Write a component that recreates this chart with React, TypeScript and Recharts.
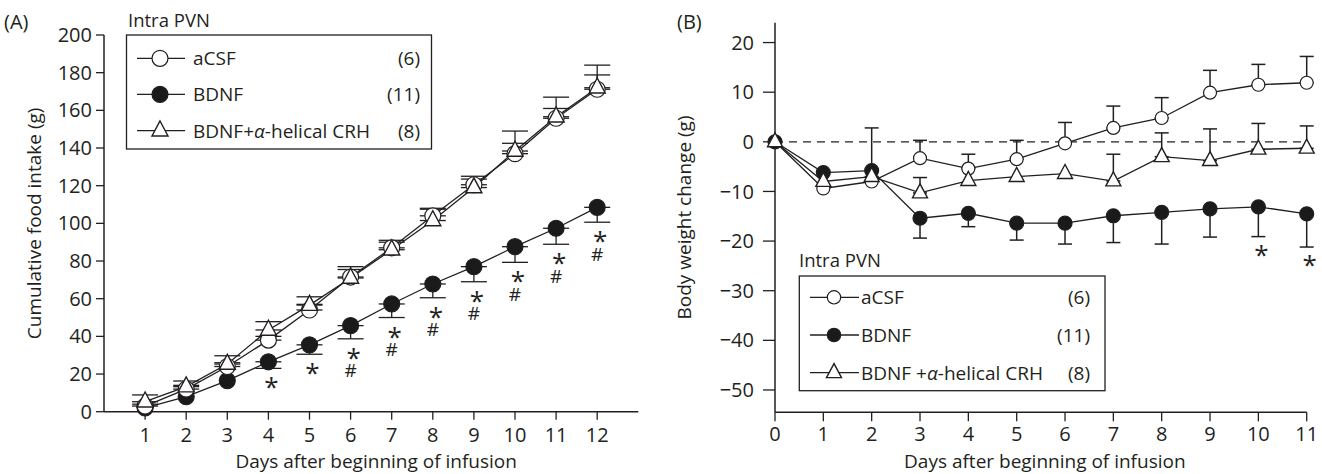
import React from 'react';
import { LineChart, Line, XAxis, YAxis, ErrorBar, Legend, ReferenceLine, Label } from 'recharts';

const FONT = '"Open Sans", "Noto Sans", sans-serif';
const INK = '#231f20';

// ---------- Panel A: cumulative food intake ----------
const daysA = [1, 2, 3, 4, 5, 6, 7, 8, 9, 10, 11, 12];
const acsfA = [3, 12, 24, 38, 54, 71.5, 87, 104, 120.5, 137, 155.8, 171.2];
const acsfErrA = [1, 2, 2, 2, 3, 4, 3, 4, 3, 5.5, 5.2, 7.6];
const bdnfA = [2, 8, 16.5, 26.5, 35.5, 45.7, 57.2, 67.8, 77, 87.6, 97.4, 108.5];
const bdnfErrA = [0, 0, 0, 3.5, 5, 7, 7.2, 7.3, 8, 8.3, 8.5, 7.9];
const crhA = [5.3, 13.3, 25.3, 43.4, 56.6, 71, 86, 101.5, 119, 138.4, 156.6, 172];
const crhErrA = [3.6, 3, 4.4, 4.4, 4.4, 6, 5, 6, 6, 10.6, 10.4, 12];
const starDaysA = [4, 5, 6, 7, 8, 9, 10, 11, 12];
const hashDaysA = [6, 7, 8, 9, 10, 11, 12];
const xTicksA = [1, 2, 3, 4, 5, 6, 7, 8, 9, 10, 11, 12];
const yTicksA = [0, 20, 40, 60, 80, 100, 120, 140, 160, 180, 200];

// ---------- Panel B: body weight change ----------
const daysB = [0, 1, 2, 3, 4, 5, 6, 7, 8, 9, 10, 11];
const acsfB = [0, -9.4, -8, -3.3, -5.4, -3.5, -0.3, 2.8, 4.8, 9.9, 11.5, 11.9];
const acsfErrB = [0, 0, 0, 3.6, 2.9, 3.8, 4.2, 4.4, 4.1, 4.5, 4.1, 5.3];
const bdnfB = [0, -6.2, -5.8, -15.4, -14.4, -16.4, -16.4, -14.9, -14.2, -13.5, -13.1, -14.5];
const bdnfErrB = [0, 0, 0, 4, 2.7, 3.4, 4.2, 5.4, 6.4, 5.7, 6, 6.7];
const crhB = [0, -8, -7, -10.3, -7.8, -7, -6.4, -7.9, -3, -3.8, -1.5, -1.3];
const crhErrB = [0, 0, 9.8, 3.1, 0, 0, 0, 5.4, 4.8, 6.4, 5.2, 4.5];
const starDaysB = [10, 11];
const xTicksB = [0, 1, 2, 3, 4, 5, 6, 7, 8, 9, 10, 11];
const yTicksB = [20, 10, 0, -10, -20, -30, -40, -50];

// ---------- Legend ----------
const legendTitle = 'Intra PVN';
const legendNamesA = ['aCSF', 'BDNF', 'BDNF+'];
const legendNamesB = ['aCSF', 'BDNF', 'BDNF +'];
const legendSuffix = ['', '', '-helical CRH'];
const legendCounts = ['(6)', '(11)', '(8)'];
const markerKinds = ['open', 'filled', 'triangle'];

const up = (e: number) => (e ? [0, e] : null);
const down = (e: number) => (e ? [e, 0] : null);

const dataA = daysA.map((d, i) => ({
  day: d,
  acsf: acsfA[i], acsfErr: up(acsfErrA[i]),
  bdnf: bdnfA[i], bdnfErr: down(bdnfErrA[i]),
  crh: crhA[i], crhErr: up(crhErrA[i]),
  sig: starDaysA.includes(d) ? bdnfA[i] - bdnfErrA[i] : null,
  star: starDaysA.includes(d),
  hash: hashDaysA.includes(d),
}));

const dataB = daysB.map((d, i) => ({
  day: d,
  acsf: acsfB[i], acsfErr: up(acsfErrB[i]),
  bdnf: bdnfB[i], bdnfErr: down(bdnfErrB[i]),
  crh: crhB[i], crhErr: up(crhErrB[i]),
  sig: starDaysB.includes(d) ? bdnfB[i] - bdnfErrB[i] : null,
  star: starDaysB.includes(d),
  hash: false,
}));

function Marker({ kind, cx, cy, r, tw, th }: any) {
  if (kind === 'triangle') {
    const top = cy - th * 0.65;
    const bot = cy + th * 0.35;
    return (
      <polygon
        points={`${cx},${top} ${cx - tw / 2},${bot} ${cx + tw / 2},${bot}`}
        fill="#fff" stroke={INK} strokeWidth={1.4} strokeLinejoin="miter"
      />
    );
  }
  return (
    <circle cx={cx} cy={cy} r={r} fill={kind === 'filled' ? '#1a1a1a' : '#fff'}
      stroke={INK} strokeWidth={1.2} />
  );
}

const makeDot = (kind: string, r: number, tw: number, th: number) => (props: any) => {
  const { cx, cy, index } = props;
  if (cx == null || cy == null || isNaN(cy)) return <g key={`d${kind}${index}`} />;
  return (
    <g key={`d${kind}${index}`}>
      <Marker kind={kind} cx={cx} cy={cy} r={r} tw={tw} th={th} />
    </g>
  );
};

// significance marks under the BDNF error bars: "*" and (optionally) "#" stacked in one text
const makeSigDot = (starDy: number, hashGap: number, starDx: number) => (props: any) => {
  const { cx, cy, payload, index } = props;
  if (cx == null || cy == null || isNaN(cy) || payload.sig == null) return <g key={`s${index}`} />;
  return (
    <g key={`s${index}`}>
      <text x={cx + starDx} y={cy + starDy} textAnchor="middle" fontFamily={FONT} fill={INK}>
        {payload.star && <tspan fontSize={26}>*</tspan>}
        {payload.hash && (
          <tspan x={cx} dy={hashGap} fontSize={19}>#</tspan>
        )}
      </text>
    </g>
  );
};

function LegendBox({ names, cfg }: any) {
  return (
    <svg width={cfg.w} height={cfg.h} style={{ display: 'block', overflow: 'visible' }}>
      <text x={cfg.titleX} y={cfg.titleY} fontSize={18.5} fontFamily={FONT} fill={INK}>{legendTitle}</text>
      <rect x={cfg.boxX} y={cfg.boxY} width={cfg.boxW} height={cfg.boxH} fill="#fff" stroke={INK} strokeWidth={1.3} />
      {names.map((n: string, i: number) => {
        const y = cfg.rows[i];
        return (
          <g key={n + i}>
            <line x1={cfg.lx1} x2={cfg.lx2} y1={y} y2={y} stroke={INK} strokeWidth={1.3} />
            <Marker kind={markerKinds[i]} cx={cfg.mx} cy={y} r={cfg.r} tw={cfg.tw} th={cfg.th} />
            <text x={cfg.tx} y={y + 7} fontSize={19} fontFamily={FONT} fill={INK}>
              {n}
              {legendSuffix[i] && <tspan fontStyle="italic">α</tspan>}
              {legendSuffix[i]}
            </text>
            <text x={cfg.cx} y={y + 7} fontSize={19} fontFamily={FONT} fill={INK} textAnchor="end">{legendCounts[i]}</text>
          </g>
        );
      })}
    </svg>
  );
}

const legendCfgA = {
  w: 320, h: 155, titleX: 8, titleY: 27,
  boxX: 6.5, boxY: 35, boxW: 305, boxH: 114,
  rows: [58.3, 94.3, 130.7], lx1: 17, lx2: 65, mx: 40, tx: 73, cx: 300,
  r: 8, tw: 16, th: 15,
};
const legendCfgB = {
  w: 320, h: 155, titleX: 9, titleY: 27,
  boxX: 9.3, boxY: 36, boxW: 305.7, boxH: 114.7,
  rows: [57.3, 95, 132.7], lx1: 20, lx2: 69, mx: 44, tx: 71, cx: 300,
  r: 6.7, tw: 15, th: 14,
};

const tickStyle = { fontSize: 20, fill: INK, fontFamily: FONT };
const minus = (v: number) => String(v).replace('-', '\u2212');

const yTitle = (text: string, dxFromAxis: number) => (props: any) => {
  const vb = props.viewBox || {};
  const x = vb.x + vb.width + dxFromAxis;
  const y = vb.y + vb.height / 2;
  return (
    <text x={x} y={y} transform={`rotate(-90 ${x} ${y})`} textAnchor="middle"
      fontSize={19} fontFamily={FONT} fill={INK}>{text}</text>
  );
};
const xTitle = (text: string, dy: number, dx: number) => (props: any) => {
  const vb = props.viewBox || {};
  const x = vb.x + vb.width / 2 + dx;
  const y = vb.y + dy;
  return (
    <text x={x} y={y} textAnchor="middle" fontSize={19} fontFamily={FONT} fill={INK}>{text}</text>
  );
};

const lineProps = { stroke: INK, strokeWidth: 1.3, isAnimationActive: false, activeDot: false as any, type: 'linear' as const };

function PanelA() {
  return (
    <LineChart width={660} height={474} data={dataA}
      margin={{ top: 35, right: 21.7, left: 44, bottom: 32.3 }}>
      <XAxis dataKey="day" type="number" domain={[0, 13]} ticks={xTicksA}
        tick={tickStyle} tickSize={8} tickMargin={8} height={30} interval={0}
        axisLine={{ stroke: INK, strokeWidth: 1.5 }} tickLine={{ stroke: INK, strokeWidth: 1.3 }}>
        <Label content={xTitle('Days after beginning of infusion', 56.5, 5)} />
      </XAxis>
      <YAxis type="number" domain={[0, 200]} ticks={yTicksA} width={60}
        tick={tickStyle} tickSize={8} tickMargin={4} interval={0}
        axisLine={{ stroke: INK, strokeWidth: 1.5 }} tickLine={{ stroke: INK, strokeWidth: 1.3 }}>
        <Label content={yTitle('Cumulative food intake (g)', -63)} />
      </YAxis>
      <Legend layout="horizontal" verticalAlign="middle" align="center"
        wrapperStyle={{ left: 120, top: 0, width: 320, height: 155 }}
        content={() => <LegendBox names={legendNamesA} cfg={legendCfgA} />} />
      <Line dataKey="bdnf" {...lineProps} dot={makeDot('filled', 8, 16, 15)}>
        <ErrorBar dataKey="bdnfErr" width={13} stroke={INK} strokeWidth={1.3} direction="y" />
      </Line>
      <Line dataKey="acsf" {...lineProps} dot={makeDot('open', 8, 16, 15)}>
        <ErrorBar dataKey="acsfErr" width={13} stroke={INK} strokeWidth={1.3} direction="y" />
      </Line>
      <Line dataKey="crh" {...lineProps} dot={makeDot('triangle', 8, 16, 15)}>
        <ErrorBar dataKey="crhErr" width={13} stroke={INK} strokeWidth={1.3} direction="y" />
      </Line>
      <Line dataKey="sig" stroke="none" isAnimationActive={false} activeDot={false}
        dot={makeSigDot(28, 10.5, 3)} legendType="none" />
    </LineChart>
  );
}

function PanelB() {
  return (
    <LineChart width={662} height={474} data={dataB}
      margin={{ top: 22.7, right: 15.3, left: 55, bottom: 31.7 }}>
      <XAxis dataKey="day" type="number" domain={[0, 11]} ticks={xTicksB}
        tick={tickStyle} tickSize={9} tickMargin={5} height={30} interval={0}
        axisLine={{ stroke: INK, strokeWidth: 1.5 }} tickLine={{ stroke: INK, strokeWidth: 1.3 }}>
        <Label content={xTitle('Days after beginning of infusion', 56, 4)} />
      </XAxis>
      <YAxis type="number" domain={[-54.5, 24]} ticks={yTicksB} width={60}
        tick={tickStyle} tickSize={12} tickMargin={9} interval={0} tickFormatter={minus}
        axisLine={{ stroke: INK, strokeWidth: 1.5 }} tickLine={{ stroke: INK, strokeWidth: 1.3 }}>
        <Label content={yTitle('Body weight change (g)', -84)} />
      </YAxis>
      <ReferenceLine y={0} stroke={INK} strokeWidth={1.3} strokeDasharray="8 6" />
      <Legend layout="horizontal" verticalAlign="middle" align="center"
        wrapperStyle={{ left: 130, top: 240, width: 320, height: 155 }}
        content={() => <LegendBox names={legendNamesB} cfg={legendCfgB} />} />
      <Line dataKey="acsf" {...lineProps} dot={makeDot('open', 6.5, 15, 14)}>
        <ErrorBar dataKey="acsfErr" width={7} stroke={INK} strokeWidth={1.5} direction="y" />
      </Line>
      <Line dataKey="bdnf" {...lineProps} dot={makeDot('filled', 7, 15, 14)}>
        <ErrorBar dataKey="bdnfErr" width={7} stroke={INK} strokeWidth={1.5} direction="y" />
      </Line>
      <Line dataKey="crh" {...lineProps} dot={makeDot('triangle', 7, 15, 14)}>
        <ErrorBar dataKey="crhErr" width={7} stroke={INK} strokeWidth={1.5} direction="y" />
      </Line>
      <Line dataKey="sig" stroke="none" isAnimationActive={false} activeDot={false}
        dot={makeSigDot(27, 10.5, 3)} legendType="none" />
    </LineChart>
  );
}

export default function App() {
  return (
    <div style={{ position: 'absolute', left: 0, top: 0, width: 1322, height: 474, background: '#fff', fontFamily: FONT }}>
      <div style={{ position: 'absolute', left: 0, top: 0 }}><PanelA /></div>
      <div style={{ position: 'absolute', left: 660, top: 0 }}><PanelB /></div>
      <svg width={1322} height={40} style={{ position: 'absolute', left: 0, top: 0, pointerEvents: 'none' }}>
        <text x={4} y={29} fontSize={20} fontFamily={FONT} fill={INK}>(A)</text>
        <text x={677} y={29} fontSize={20} fontFamily={FONT} fill={INK}>(B)</text>
      </svg>
    </div>
  );
}
